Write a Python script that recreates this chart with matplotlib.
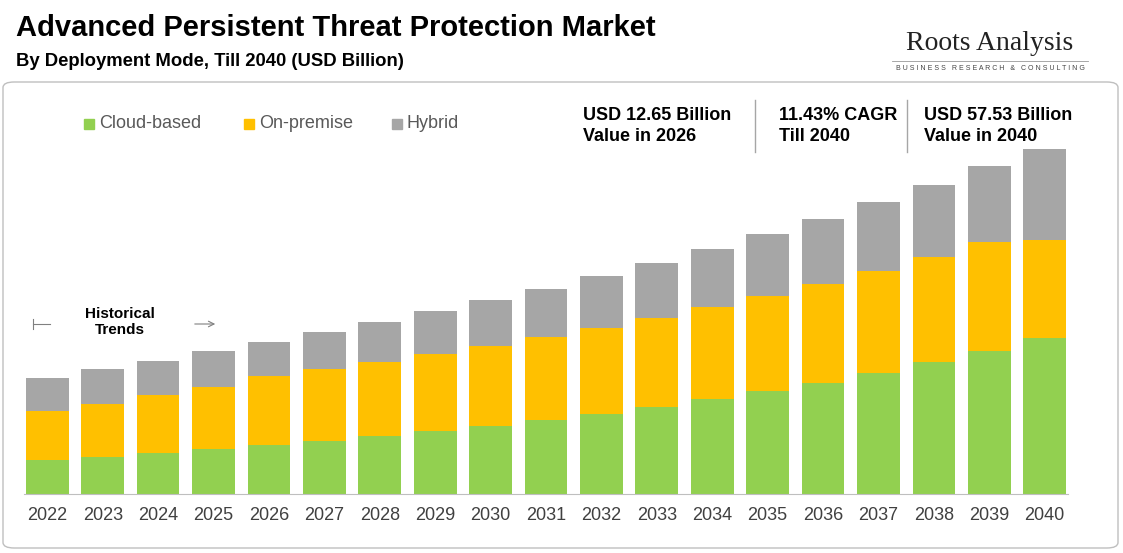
import matplotlib
matplotlib.use("Agg")
import matplotlib.pyplot as plt
from matplotlib.patches import FancyBboxPatch

plt.rcParams['font.family'] = ['Liberation Sans', 'DejaVu Sans']

years = [str(y) for y in range(2022, 2041)]
cloud = [5.67,6.17,6.83,7.5,8.17,8.83,9.67,10.5,11.33,12.33,13.33,14.5,15.83,17.17,18.5,20.17,22.0,23.83,26.0]
onprem = [8.17,8.83,9.67,10.33,11.5,12.0,12.33,12.83,13.33,13.83,14.33,14.83,15.33,15.83,16.5,17.0,17.5,18.17,16.33]
hybrid = [5.5,5.83,5.67,6.0,5.67,6.17,6.67,7.17,7.67,8.0,8.67,9.17,9.67,10.33,10.83,11.5,12.0,12.67,15.17]
labels = ["Cloud-based", "On-premise", "Hybrid"]
colors = ["#92D050", "#FFC000", "#A6A6A6"]

W, H = 1123, 553
fig = plt.figure(figsize=(W/100, H/100), dpi=100)
fig.patch.set_facecolor("white")

frame = FancyBboxPatch((3/W, 5/H), 1115/W, 466/H, boxstyle="round,pad=0,rounding_size=0.01",
                       transform=fig.transFigure, fill=False, edgecolor="#BFBFBF", lw=1)
fig.add_artist(frame)

ax = fig.add_axes([24/W, 59/H, 1044/W, 394/H])
x = list(range(len(years)))
b2 = [c + o for c, o in zip(cloud, onprem)]
ax.bar(x, cloud, width=0.77, color=colors[0])
ax.bar(x, onprem, width=0.77, bottom=cloud, color=colors[1])
ax.bar(x, hybrid, width=0.77, bottom=b2, color=colors[2])
ax.set_xlim(-0.42, len(years) - 0.58)
ax.set_ylim(0, 65.67)
ax.set_yticks([])
ax.set_xticks(x)
ax.set_xticklabels(years, fontsize=13, color="#404040")
ax.tick_params(axis="x", length=0, pad=9)
for s in ["top", "right", "left"]:
    ax.spines[s].set_visible(False)
ax.spines["bottom"].set_color("#BFBFBF")

fig.text(16/W, 1-28/H, "Advanced Persistent Threat Protection Market", fontsize=21, weight="bold", va="center")
fig.text(16/W, 1-61/H, "By Deployment Mode, Till 2040 (USD Billion)", fontsize=13.3, weight="bold", va="center")
fig.text(990/W, 1-44/H, "Roots Analysis", fontsize=20, family="Liberation Serif", ha="center", va="center", color="#222222")
fig.text(990/W, 1-68/H, "B U S I N E S S   R E S E A R C H   &   C O N S U L T I N G", fontsize=5, ha="center", va="center", color="#444444")
fig.add_artist(plt.Line2D([892/W, 1088/W], [1-61/H, 1-61/H], color="#999999", lw=0.6))

lx = [84, 244, 392]
for px, lab, c in zip(lx, labels, colors):
    fig.add_artist(plt.Rectangle((px/W, 1-129/H), 10/W, 10/H, color=c, transform=fig.transFigure))
    fig.text((px+15)/W, 1-124/H, lab, fontsize=13, color="#595959", va="center")

for px, txt in [(583, "USD 12.65 Billion\nValue in 2026"), (779, "11.43% CAGR\nTill 2040"), (924, "USD 57.53 Billion\nValue in 2040")]:
    fig.text(px/W, 1-126/H, txt, fontsize=13, weight="bold", va="center", linespacing=1.3)
for px in [755, 907]:
    fig.add_artist(plt.Line2D([px/W, px/W], [1-100/H, 1-152/H], color="#A6A6A6", lw=1))

fig.text(120/W, 1-322/H, "Historical\nTrends", fontsize=11, weight="bold", ha="center", va="center")
fig.add_artist(plt.Line2D([33/W, 33/W], [1-319/H, 1-329/H], color="#808080", lw=0.8))
fig.add_artist(plt.Line2D([33/W, 50/W], [1-324/H, 1-324/H], color="#808080", lw=0.8))
ax.annotate("", xy=(218/W, 1-324/H), xytext=(192/W, 1-324/H), xycoords="figure fraction",
            arrowprops=dict(arrowstyle="->", color="#808080", lw=0.8))

fig.savefig("out.png", dpi=100)
